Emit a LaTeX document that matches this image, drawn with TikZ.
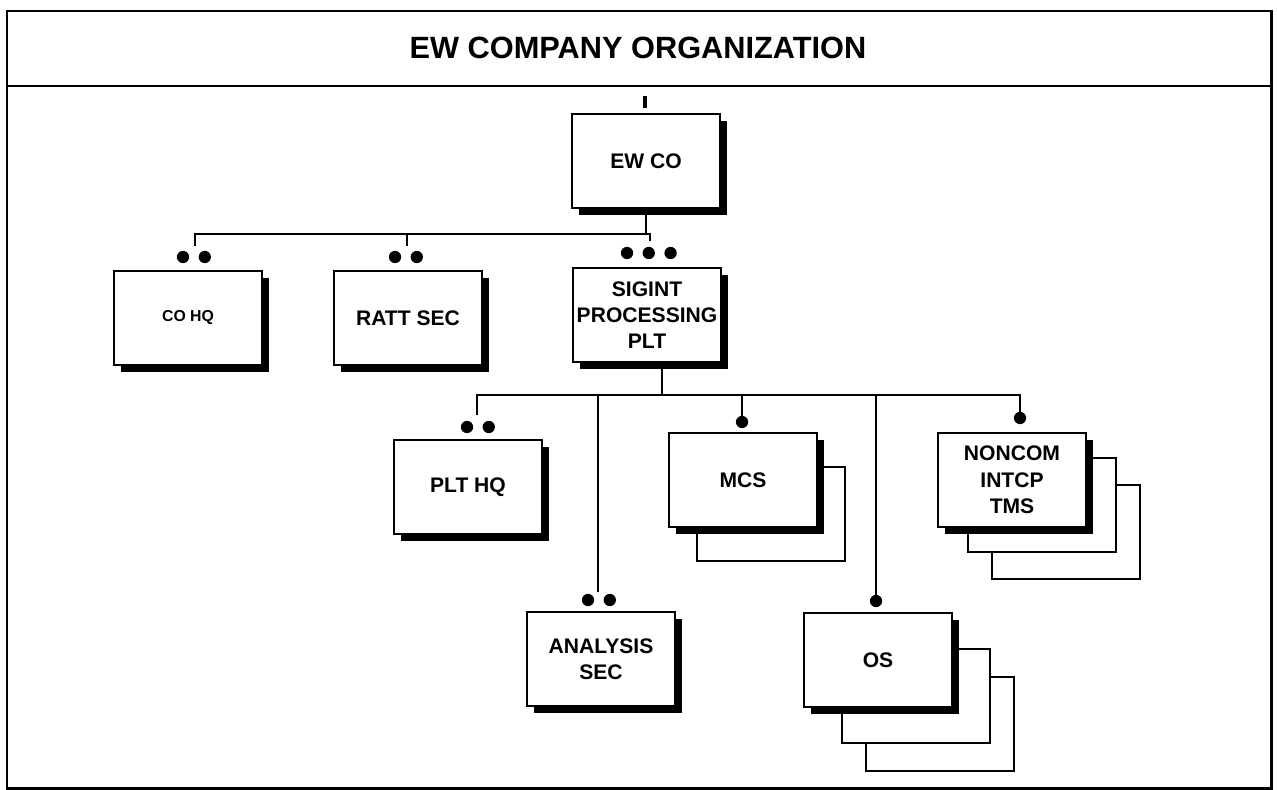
\documentclass[tikz,border=0pt]{standalone}
\usepackage{fontspec}
\setmainfont{Liberation Sans}
\usetikzlibrary{positioning,shadows}

\begin{document}
\begin{tikzpicture}[
			x=0.02cm, y=-0.02cm,
			unitbox/.style={rectangle, draw=black, line width=1.1pt, fill=white, inner sep=1pt, minimum width=2.96cm, minimum height=1.88cm, align=center, font=\bfseries\fontsize{12}{15}\selectfont, drop shadow={shadow xshift=4pt, shadow yshift=-4pt, fill=black, opacity=1}},
			backbox/.style={rectangle, draw=black, line width=1.1pt, fill=white, minimum width=2.96cm, minimum height=1.88cm},
			dotnode/.style={circle, fill=black, inner sep=0pt, minimum size=7pt},
			orgline/.style={line width=1.2pt},
			]
			\useasboundingbox (0,0) rectangle (1277,790);
			%Frame
			\draw[line width=1.7pt] (7,11) rectangle (1271,788);
			\draw[line width=1.7pt] (7,86) -- (1271,86);
			\node[font=\bfseries\fontsize{17.5}{20}\selectfont] (title) at (638,48) {EW COMPANY ORGANIZATION};

			%Nodes
			\node[unitbox] (ewco) at (646,161) {EW CO};
			\node[unitbox, font=\bfseries\fontsize{9}{11}\selectfont] (cohq) at (188,318) {CO HQ};
			\node[unitbox] (ratt) at (408,318) {RATT SEC};
			\node[unitbox] (sigint) at (647,315) {SIGINT\\PROCESSING\\PLT};
			\node[unitbox] (plthq) at (468,487) {PLT HQ};
			\node[unitbox] (analysis) at (601,659) {ANALYSIS\\SEC};

			\coordinate (mcs-c) at (743,480);
			\node[backbox] (mcs-b1) at ([shift={(28,34)}]mcs-c) {};
			\node[unitbox] (mcs) at (mcs-c) {MCS};

			\coordinate (noncom-c) at (1012,480);
			\node[backbox] (noncom-b2) at ([shift={(54,52)}]noncom-c) {};
			\node[backbox] (noncom-b1) at ([shift={(30,25)}]noncom-c) {};
			\node[unitbox] (noncom) at (noncom-c) {NONCOM\\INTCP\\TMS};

			\coordinate (os-c) at (878,660);
			\node[backbox] (os-b2) at ([shift={(62,64)}]os-c) {};
			\node[backbox] (os-b1) at ([shift={(38,36)}]os-c) {};
			\node[unitbox] (os) at (os-c) {OS};

			%Dots
			\node[dotnode] (cohq-d1) at (183,257) {};
			\node[dotnode, right=5pt of cohq-d1] (cohq-d2) {};
			\node[dotnode] (ratt-d1) at (395,257) {};
			\node[dotnode, right=5pt of ratt-d1] (ratt-d2) {};
			\node[dotnode] (sig-d1) at (627,253) {};
			\node[dotnode, right=5pt of sig-d1] (sig-d2) {};
			\node[dotnode, right=5pt of sig-d2] (sig-d3) {};
			\node[dotnode] (plthq-d1) at (467,427) {};
			\node[dotnode, right=5pt of plthq-d1] (plthq-d2) {};
			\node[dotnode] (anl-d1) at (588,600) {};
			\node[dotnode, right=5pt of anl-d1] (anl-d2) {};
			\node[dotnode] (mcs-d1) at (742,422) {};
			\node[dotnode] (noncom-d1) at (1020,418) {};
			\node[dotnode] (os-d1) at (876,601) {};

			%Lines
			\coordinate (bus1) at (0,234);
			\coordinate (bus2) at (0,395);
			\coordinate (top-t) at (645,96);
			\coordinate (cohq-t) at (195,246);
			\coordinate (ratt-t) at (407,246);
			\coordinate (sig-t) at (650,241);
			\coordinate (sig-drop) at (662,0);
			\coordinate (plthq-t) at (477,415);
			\coordinate (anl-t) at (598,592);

			\draw[line width=1.8pt] (top-t) -- ([yshift=2.8pt]top-t |- ewco.north);
			\draw[orgline] (ewco.south) -- (ewco.south |- bus1);
			\draw[orgline] (cohq-t) -- (cohq-t |- bus1) -- (sig-t |- bus1) -- (sig-t);
			\draw[orgline] (ratt-t) -- (ratt-t |- bus1);
			\draw[orgline] (sigint.south -| sig-drop) -- (sig-drop |- bus2);
			\draw[orgline] (plthq-t) -- (plthq-t |- bus2) -- (noncom-d1 |- bus2) -- (noncom-d1);
			\draw[orgline] (anl-t) -- (anl-t |- bus2);
			\draw[orgline] (mcs-d1) -- (mcs-d1 |- bus2);
			\draw[orgline] (os-d1) -- (os-d1 |- bus2);
		\end{tikzpicture}
\end{document}
